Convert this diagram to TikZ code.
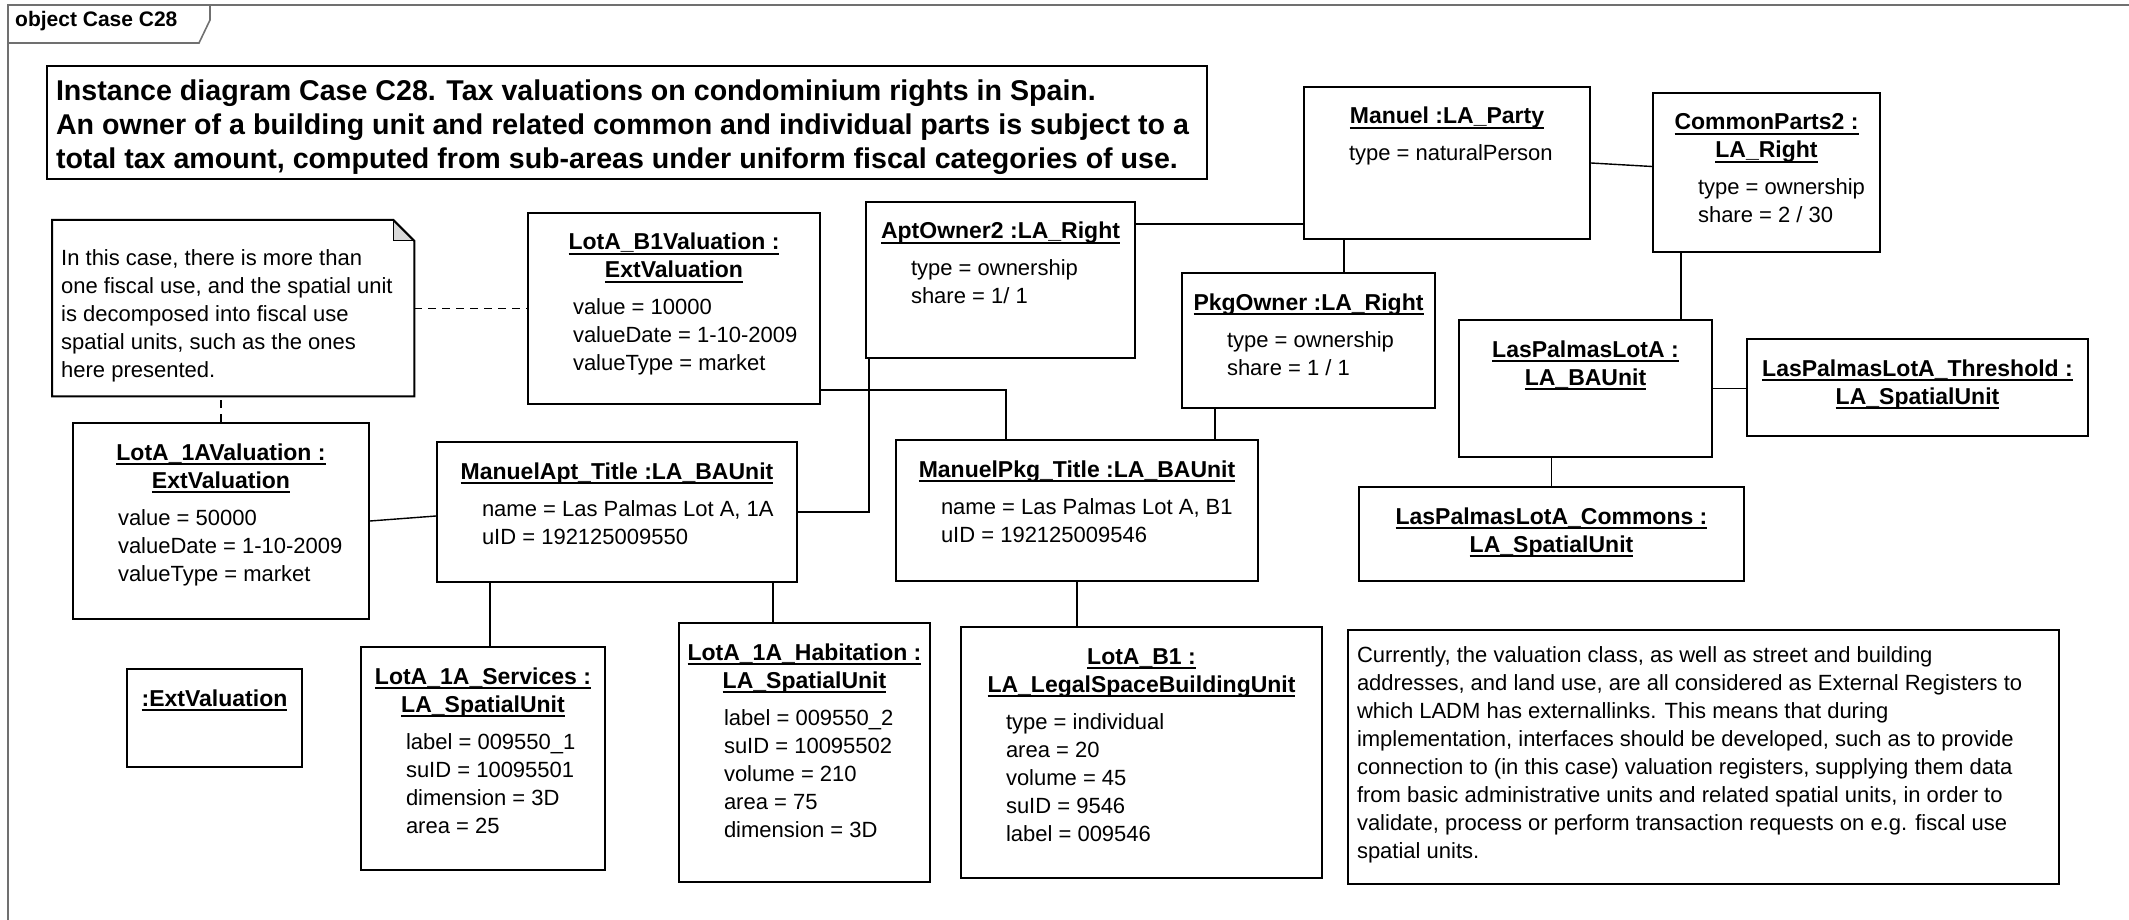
\documentclass[tikz,border=0pt]{standalone}
\usepackage{fontspec}
\setmainfont{Liberation Sans}
\usetikzlibrary{calc}
\definecolor{foldgray}{HTML}{D9D9D9}
\definecolor{framegray}{HTML}{707070}

\newcommand{\uname}[1]{\leavevmode\setbox0=\hbox{\fontsize{23}{28}\selectfont\bfseries #1}%
  \rlap{\rule[-5pt]{\wd0}{1.8pt}}\box0}
\newcommand{\objbody}[4]{% width, height, names, attributes
  \parbox[t][#2pt][t]{#1pt}{\fontsize{22}{28}\selectfont
    \centering\rule{0pt}{37pt}#3\par
    \ifx\relax#4\relax\else\vspace{9pt}\raggedright
      \hspace*{45pt}\begin{tabular}[t]{@{}l@{}}#4\end{tabular}\par\fi}}
\newcommand{\notebody}[5]{% width, height, first baseline, font, lines
  \parbox[t][#2pt][t]{#1pt}{#4\raggedright
    \hspace*{9pt}\rule{0pt}{#3pt}\begin{tabular}[t]{@{}l@{}}#5\end{tabular}\par}}

\begin{document}
\begin{tikzpicture}[x=1pt,y=-1pt,
  obj/.style={draw,line width=2pt,inner sep=0pt,anchor=north west},
  notebox/.style={inner sep=0pt,anchor=north west},
  boxline/.style={line width=2pt},
  link/.style={line width=1.4pt},
  dashlink/.style={line width=1.4pt,dash pattern=on 8pt off 6pt},
  frameline/.style={line width=1.6pt,framegray},
  tabtext/.style={font=\fontsize{21}{25}\selectfont\bfseries,inner sep=0pt}
]
  \useasboundingbox (0,0) rectangle (2129,920);

  % ---- Diagram frame and tab -----------------------------------
  \draw[frameline] (8,5) rectangle (2200,1000);
  \draw[frameline] (8,43) -- (199,43) -- (210,20) -- (210,5);
  \node[tabtext,anchor=base west] (tablabel) at (15,27) {object Case C28};

  % ---- Title box -----------------------------------------------
  \node[obj] (title) at (46,65)
    {\notebody{1160}{113}{35}{\fontsize{28.6}{34}\selectfont\bfseries}%
      {Instance diagram Case C28. Tax valuations on condominium rights in Spain.\\
       An owner of a building unit and related common and individual parts is subject to a\\
       total tax amount, computed from sub-areas under uniform fiscal categories of use.}};

  % ---- Notes ---------------------------------------------------
  \node[notebox] (notel) at (52,220)
    {\notebody{362}{176}{45}{\fontsize{22}{28}\selectfont}%
      {In this case, there is more than\\one fiscal use, and the spatial unit\\
       is decomposed into fiscal use\\spatial units, such as the ones\\here presented.}};
  \fill[foldgray] ([xshift=-21pt]notel.north east) -- ([xshift=-21pt,yshift=-21pt]notel.north east)
    -- ([yshift=-21pt]notel.north east) -- cycle;
  \draw[boxline] (notel.north west) -- ([xshift=-21pt]notel.north east)
    -- ([yshift=-21pt]notel.north east) -- (notel.south east) -- (notel.south west) -- cycle;
  \draw[line width=1pt] ([xshift=-21pt]notel.north east) -- ([xshift=-21pt,yshift=-21pt]notel.north east)
    -- ([yshift=-21pt]notel.north east);

  \node[obj] (noter) at (1347,629)
    {\notebody{711}{254}{32}{\fontsize{22}{28}\selectfont}%
      {Currently, the valuation class, as well as street and building\\
       addresses, and land use, are all considered as External Registers to\\
       which LADM has externallinks. This means that during\\
       implementation, interfaces should be developed, such as to provide\\
       connection to (in this case) valuation registers, supplying them data\\
       from basic administrative units and related spatial units, in order to\\
       validate, process or perform transaction requests on e.g. fiscal use\\
       spatial units.}};

  % ---- Valuations ----------------------------------------------
  \node[obj] (b1val) at (527,212)
    {\objbody{292}{191}{\uname{LotA\_B1Valuation :}\\\uname{ExtValuation}}
      {value = 10000\\valueDate = 1-10-2009\\valueType = market}};
  \node[obj] (aval) at (72,422)
    {\objbody{296}{196}{\uname{LotA\_1AValuation :}\\\uname{ExtValuation}}
      {value = 50000\\valueDate = 1-10-2009\\valueType = market}};
  \node[obj] (extval) at (126,668)
    {\objbody{175}{98}{\uname{:ExtValuation}}{}};

  % ---- Party and rights ----------------------------------------
  \node[obj] (manuel) at (1303,86)
    {\objbody{286}{152}{\uname{Manuel :LA\_Party}}{type = naturalPerson}};
  \node[obj] (aptown) at (865,201)
    {\objbody{269}{156}{\uname{AptOwner2 :LA\_Right}}{type = ownership\\share = 1/ 1}};
  \node[obj] (pkgown) at (1181,272)
    {\objbody{253}{135}{\uname{PkgOwner :LA\_Right}}{type = ownership\\share = 1 / 1}};
  \node[obj] (common) at (1652,92)
    {\objbody{227}{159}{\uname{CommonParts2 :}\\\uname{LA\_Right}}{type = ownership\\share = 2 / 30}};

  % ---- Basic administrative units ------------------------------
  \node[obj] (apttitle) at (436,441)
    {\objbody{360}{140}{\uname{ManuelApt\_Title :LA\_BAUnit}}
      {name = Las Palmas Lot A, 1A\\uID = 192125009550}};
  \node[obj] (pkgtitle) at (895,439)
    {\objbody{362}{141}{\uname{ManuelPkg\_Title :LA\_BAUnit}}
      {name = Las Palmas Lot A, B1\\uID = 192125009546}};
  \node[obj] (lota) at (1458,319)
    {\objbody{253}{137}{\uname{LasPalmasLotA :}\\\uname{LA\_BAUnit}}{}};

  % ---- Spatial units -------------------------------------------
  \node[obj] (thresh) at (1746,338)
    {\objbody{341}{97}{\uname{LasPalmasLotA\_Threshold :}\\\uname{LA\_SpatialUnit}}{}};
  \node[obj] (commons) at (1358,486)
    {\objbody{385}{94}{\uname{LasPalmasLotA\_Commons :}\\\uname{LA\_SpatialUnit}}{}};
  \node[obj] (services) at (360,646)
    {\objbody{244}{223}{\uname{LotA\_1A\_Services :}\\\uname{LA\_SpatialUnit}}
      {label = 009550\_1\\suID = 10095501\\dimension = 3D\\area = 25}};
  \node[obj] (habit) at (678,622)
    {\objbody{251}{259}{\uname{LotA\_1A\_Habitation :}\\\uname{LA\_SpatialUnit}}
      {label = 009550\_2\\suID = 10095502\\volume = 210\\area = 75\\dimension = 3D}};
  \node[obj] (lotb1) at (960,626)
    {\objbody{361}{251}{\uname{LotA\_B1 :}\\\uname{LA\_LegalSpaceBuildingUnit}}
      {type = individual\\area = 20\\volume = 45\\suID = 9546\\label = 009546}};

  % ---- Note anchors (dashed) -----------------------------------
  \draw[dashlink] (notel.east) -- (notel.east -| b1val.west);
  \draw[dashlink] (aval.north) -- (aval.north |- notel.south);

  % ---- Links ---------------------------------------------------
  \coordinate (svcjoin) at ([xshift=54pt]apttitle.south west);
  \coordinate (habjoin) at ([xshift=337pt]apttitle.south west);
  \coordinate (aptjoin) at ([xshift=4pt]aptown.south west);
  \coordinate (b1join) at ([yshift=15pt]b1val.south east);
  \coordinate (pkgjoin) at ([xshift=111pt]pkgtitle.north west);
  \coordinate (partyjoin) at ([yshift=-23pt]aptown.north east);
  \coordinate (pkgownjoin) at ([xshift=163pt]pkgown.north west);
  \coordinate (pkgtjoin) at ([xshift=34pt]pkgown.south west);
  \coordinate (lotajoin) at ([xshift=29pt]common.south west);

  \draw[link] (aval.east) -- ([yshift=-4pt]apttitle.west);
  \draw[link] (svcjoin) -- (svcjoin |- services.north);
  \draw[link] (habjoin) -- (habjoin |- habit.north);
  \draw[link] (apttitle.east) -| (aptjoin);
  \draw[link] (b1join) -| (pkgjoin);
  \draw[link] (partyjoin) -- (partyjoin -| manuel.west);
  \draw[link] (pkgownjoin) -- (pkgownjoin |- manuel.south);
  \draw[link] (pkgtjoin) -- (pkgtjoin |- pkgtitle.north);
  \draw[link] (manuel.east) -- ([yshift=6pt]common.west);
  \draw[link] (lotajoin) -- (lotajoin |- lota.north);
  \draw[link] (lota.east) -- (lota.east -| thresh.west);
  \draw[link] (commons.north) -- (commons.north |- lota.south);
  \draw[link] (pkgtitle.south) -- (pkgtitle.south |- lotb1.north);

\end{tikzpicture}
\end{document}
